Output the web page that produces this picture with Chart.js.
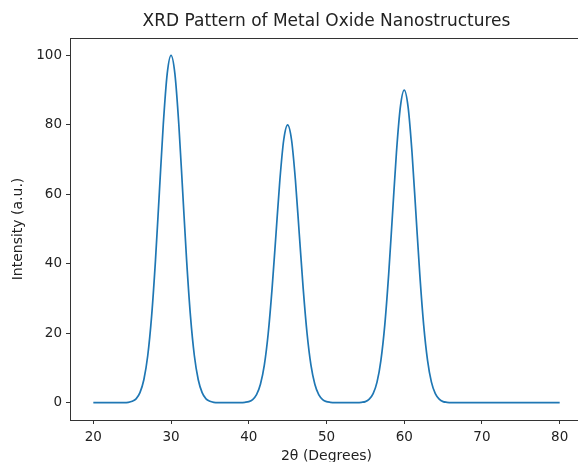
<!DOCTYPE html>
<html>
<head>
<meta charset="utf-8">
<script src="https://cdn.jsdelivr.net/npm/chart.js@4/dist/chart.umd.min.js"></script>
<style>
html,body{margin:0;padding:0;background:#fff;overflow:hidden;}
#wrap{width:600px;height:462px;}
</style>
</head>
<body>
<div id="wrap"><canvas id="c" width="600" height="462"></canvas></div>
<script>
const chartTitle = "XRD Pattern of Metal Oxide Nanostructures";
const xAxisTitle = "2θ (Degrees)";
const yAxisTitle = "Intensity (a.u.)";
const xTickValues = [20, 30, 40, 50, 60, 70, 80];
const yTickValues = [0, 20, 40, 60, 80, 100];

const angles = [20, 24, 24.5, 25, 25.5, 26, 26.5, 27, 27.5, 28, 28.5, 29, 29.5, 30,
  30.5, 31, 31.5, 32, 32.5, 33, 33.5, 34, 34.5, 35, 35.5, 36,
  39, 39.5, 40, 40.5, 41, 41.5, 42, 42.5, 43, 43.5, 44, 44.5, 45,
  45.5, 46, 46.5, 47, 47.5, 48, 48.5, 49, 49.5, 50, 50.5, 51,
  54, 54.5, 55, 55.5, 56, 56.5, 57, 57.5, 58, 58.5, 59, 59.5, 60,
  60.5, 61, 61.5, 62, 62.5, 63, 63.5, 64, 64.5, 65, 65.5, 66, 80];
const intensity = [0, 0, 0.1, 0.4, 1.1, 2.9, 6.6, 13.5, 24.9, 41.1, 60.7, 80.1, 94.6, 100,
  94.6, 80.1, 60.7, 41.1, 24.9, 13.5, 6.6, 2.9, 1.1, 0.4, 0.1, 0,
  0, 0.1, 0.3, 0.9, 2.3, 5.3, 10.8, 19.9, 32.9, 48.5, 64.1, 75.7, 80,
  75.7, 64.1, 48.5, 32.9, 19.9, 10.8, 5.3, 2.3, 0.9, 0.3, 0.1, 0,
  0, 0.1, 0.3, 1.0, 2.6, 5.9, 12.2, 22.4, 37.0, 54.6, 72.1, 85.1, 90,
  85.1, 72.1, 54.6, 37.0, 22.4, 12.2, 5.9, 2.6, 1.0, 0.3, 0.1, 0, 0];

const points = angles.map((a, i) => ({x: a, y: intensity[i]}));

const boxPlugin = {
  id: 'box',
  afterDraw(chart) {
    const a = chart.chartArea, ctx = chart.ctx;
    ctx.save();
    ctx.strokeStyle = '#333';
    ctx.lineWidth = 1;
    ctx.strokeRect(Math.round(a.left) + 0.5, Math.round(a.top) + 0.5,
      Math.round(a.right - a.left), Math.round(a.bottom - a.top));
    ctx.restore();
  }
};

const FONT = "'DejaVu Sans', sans-serif";

new Chart(document.getElementById('c'), {
  type: 'line',
  data: {
    datasets: [{
      data: points,
      borderColor: '#1f77b4',
      borderWidth: 1.7,
      pointRadius: 0,
      fill: false,
      cubicInterpolationMode: 'monotone'
    }]
  },
  options: {
    responsive: false,
    animation: false,
    events: [],
    layout: {padding: {left: 0, right: 17, top: 0, bottom: 0}},
    plugins: {
      legend: {display: false},
      tooltip: {enabled: false},
      title: {
        display: true,
        fullSize: false,
        text: chartTitle,
        color: '#222',
        font: {family: FONT, size: 17, weight: 'normal'},
        padding: {top: 11, bottom: 6.6}
      }
    },
    scales: {
      x: {
        type: 'linear',
        min: 17, max: 83,
        afterBuildTicks: s => { s.ticks = xTickValues.map(v => ({value: v})); },
        afterFit: s => { s.height = 42; },
        grid: {display: true, drawOnChartArea: false, drawTicks: true, tickLength: 4, color: '#333'},
        border: {display: false},
        ticks: {color: '#222', font: {family: FONT, size: 13.5}, padding: 5, maxRotation: 0, autoSkip: false},
        title: {display: true, text: xAxisTitle, color: '#222', font: {family: FONT, size: 14}, padding: {top: 0, bottom: -3}}
      },
      y: {
        type: 'linear',
        min: -5, max: 105,
        afterBuildTicks: s => { s.ticks = yTickValues.map(v => ({value: v})); },
        afterFit: s => { s.width = 70; },
        grid: {display: true, drawOnChartArea: false, drawTicks: true, tickLength: 4, color: '#333'},
        border: {display: false},
        ticks: {color: '#222', font: {family: FONT, size: 13.5}, padding: 4, autoSkip: false},
        title: {display: true, text: yAxisTitle, color: '#222', font: {family: FONT, size: 14}, padding: {top: 9.6, bottom: 0}}
      }
    }
  },
  plugins: [boxPlugin]
});
</script>
</body>
</html>
